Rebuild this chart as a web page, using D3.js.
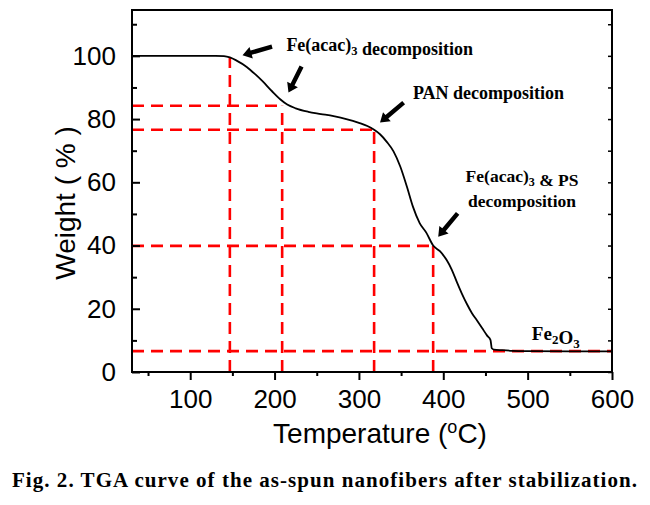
<!DOCTYPE html>
<html>
<head>
<meta charset="utf-8">
<script src="https://cdn.jsdelivr.net/npm/d3@7"></script>
<style>
  html, body { margin: 0; padding: 0; background: #fff; }
  svg { display: block; }
</style>
</head>
<body>
<script>
// ---- data ----
const temperature = [31, 60, 100, 130, 140, 147, 155, 167, 177, 186, 197, 207, 215, 225, 240, 255, 270, 285, 300, 310, 318, 325, 333, 341, 349, 357, 364, 372, 380, 388, 396, 404, 410, 416, 422, 428, 434, 440, 446, 452, 456, 457.5, 460, 470, 483, 500, 550, 600];
const weight      = [100, 100, 100, 100, 99.9, 99.5, 98.5, 96.5, 94.2, 91.9, 88.8, 86.2, 84.6, 83.4, 82.3, 81.6, 80.9, 80.0, 78.8, 77.8, 76.6, 75.2, 72.8, 69.8, 65.0, 58.5, 52.3, 47.1, 44.0, 40.0, 38.2, 35.4, 32.4, 28.5, 24.8, 21.5, 18.6, 16.3, 13.9, 11.5, 10.1, 7.5, 7.1, 6.9, 6.7, 6.6, 6.5, 6.5];

const xTicks = [100, 200, 300, 400, 500, 600];
const yTicks = [0, 20, 40, 60, 80, 100];
const xMinor = [50, 150, 250, 350, 450, 550];
const yMinor = [10, 30, 50, 70, 90, 110];

// red dashed guide lines: vertical at T, horizontal at W
const guideT = [147, 209, 318, 388];
const guideVTop = [99.5, 84.2, 76.6, 39.9];
const guideW = [84.2, 76.6, 39.9, 6.6];
const guideHEnd = [209, 318, 388, 600];

// arrows [tailT, tailW, headT, headW]
const arrows = [
  [197, 102.9, 162, 100.2],
  [232, 96.6, 216.5, 88.4],
  [353, 85.2, 325, 78.9],
  [417, 50.2, 394, 42.8]
];

// ---- layout ----
const W = 650, H = 505;
const L = 132, R = 612, T = 10, B = 372;

const svg = d3.select("body").append("svg").attr("width", W).attr("height", H);

const x = d3.scaleLinear().domain([31, 600]).range([L, R]);
const y = d3.scaleLinear().domain([0, 114.5]).range([B, T]);

const sans = "'Liberation Sans', Arial, sans-serif";
const serif = "'Liberation Serif', 'Times New Roman', serif";

// red guides
const red = svg.append("g").attr("stroke", "#ff0000").attr("stroke-width", 2.6)
  .attr("stroke-dasharray", "12,7").attr("fill", "none");
guideT.forEach((t, i) => {
  red.append("line").attr("x1", x(t)).attr("x2", x(t)).attr("y1", y(0)).attr("y2", y(guideVTop[i]));
});
guideW.forEach((w, i) => {
  red.append("line").attr("x1", x(31)).attr("x2", x(guideHEnd[i])).attr("y1", y(w)).attr("y2", y(w));
});

// curve
const pts = temperature.map((t, i) => [t, weight[i]]);
svg.append("path")
  .datum(pts)
  .attr("fill", "none").attr("stroke", "#000").attr("stroke-width", 1.8)
  .attr("d", d3.line().x(d => x(d[0])).y(d => y(d[1])).curve(d3.curveMonotoneX));

// frame
svg.append("rect").attr("x", L).attr("y", T).attr("width", R - L).attr("height", B - T)
  .attr("fill", "none").attr("stroke", "#000").attr("stroke-width", 2);

// x axis (ticks outward)
const xAxis = svg.append("g").attr("transform", `translate(0,${B})`)
  .call(d3.axisBottom(x).tickValues(xTicks).tickSize(8).tickFormat(d3.format("d")));
xAxis.select(".domain").remove();
xAxis.selectAll(".tick line").attr("stroke-width", 2);
xAxis.selectAll(".tick text").attr("font-family", sans).attr("font-size", 26).attr("dy", "0.95em").attr("fill", "#000");
const xAxisMinor = svg.append("g").attr("transform", `translate(0,${B})`)
  .call(d3.axisBottom(x).tickValues(xMinor).tickSize(4).tickFormat(""));
xAxisMinor.select(".domain").remove();
xAxisMinor.selectAll(".tick line").attr("stroke-width", 2);

// y axis (ticks inward)
const yAxis = svg.append("g").attr("transform", `translate(${L},0)`)
  .call(d3.axisLeft(y).tickValues(yTicks).tickSize(-8).tickPadding(16).tickFormat(d3.format("d")));
yAxis.select(".domain").remove();
yAxis.selectAll(".tick line").attr("stroke-width", 2);
yAxis.selectAll(".tick text").attr("font-family", sans).attr("font-size", 26).attr("fill", "#000");
const yAxisMinor = svg.append("g").attr("transform", `translate(${L},0)`)
  .call(d3.axisLeft(y).tickValues(yMinor).tickSize(-5).tickFormat(""));
yAxisMinor.select(".domain").remove();
yAxisMinor.selectAll(".tick line").attr("stroke-width", 2);

// right axis ticks inward
const rAxis = svg.append("g").attr("transform", `translate(${R},0)`)
  .call(d3.axisRight(y).tickValues(yTicks.concat(yMinor)).tickSize(-4).tickFormat(""));
rAxis.select(".domain").remove();
rAxis.selectAll(".tick line").attr("stroke-width", 1.5);

// axis titles
svg.append("text").attr("x", 380).attr("y", 443).attr("text-anchor", "middle")
  .attr("font-family", sans).attr("font-size", 28).attr("fill", "#000")
  .call(t => {
    t.append("tspan").text("Temperature (");
    t.append("tspan").attr("font-size", 18).attr("dy", -10).text("o");
    t.append("tspan").attr("dy", 10).text("C)");
  });

svg.append("text").attr("transform", "translate(75,203) rotate(-90)").attr("text-anchor", "middle")
  .attr("font-family", sans).attr("font-size", 28).attr("fill", "#000")
  .text("Weight ( % )");

// arrows
arrows.forEach(a => {
  const x1 = x(a[0]), y1 = y(a[1]), x2 = x(a[2]), y2 = y(a[3]);
  const dx = x2 - x1, dy = y2 - y1, len = Math.hypot(dx, dy);
  const ux = dx / len, uy = dy / len, nx = -uy, ny = ux;
  const hl = 9, hw = 6, sw = 2.2;
  const bx = x2 - ux * hl, by = y2 - uy * hl;
  const p = [
    [x1 + nx * sw, y1 + ny * sw],
    [bx + nx * sw, by + ny * sw],
    [bx + nx * hw, by + ny * hw],
    [x2, y2],
    [bx - nx * hw, by - ny * hw],
    [bx - nx * sw, by - ny * sw],
    [x1 - nx * sw, y1 - ny * sw]
  ];
  svg.append("polygon").attr("points", p.map(q => q.join(",")).join(" ")).attr("fill", "#000");
});

// annotations
function subText(sel, parts, subSize) {
  parts.forEach(p => {
    if (p.sub) {
      sel.append("tspan").attr("font-size", subSize).attr("dy", 4).text(p.sub);
      sel.append("tspan").attr("dy", -4).text("");
    } else {
      sel.append("tspan").text(p.t);
    }
  });
}
const ann = svg.append("g").attr("font-family", serif).attr("font-weight", "bold").attr("font-size", 18).attr("fill", "#000");
ann.append("text").attr("x", x(214)).attr("y", y(101.4))
  .call(s => subText(s, [{t: "Fe(acac)"}, {sub: "3"}, {t: " decomposition"}], 12.5));
ann.append("text").attr("x", x(364)).attr("y", y(86.3)).text("PAN decomposition");
ann.append("text").attr("x", x(493.4)).attr("y", y(60.0)).attr("text-anchor", "middle").attr("font-size", 17.5)
  .call(s => subText(s, [{t: "Fe(acac)"}, {sub: "3"}, {t: " & PS"}], 12));
ann.append("text").attr("x", x(493.4)).attr("y", y(52.3)).attr("text-anchor", "middle").attr("font-size", 17.5).text("decomposition");
ann.append("text").attr("x", x(505)).attr("y", y(10.1)).attr("font-size", 19)
  .call(s => subText(s, [{t: "Fe"}, {sub: "2"}, {t: "O"}, {sub: "3"}], 13));

// caption
svg.append("text").attr("x", 12).attr("y", 487)
  .attr("font-family", serif).attr("font-weight", "bold").attr("font-size", 21).attr("fill", "#000")
  .attr("textLength", 625).attr("lengthAdjust", "spacing")
  .text("Fig. 2. TGA curve of the as-spun nanofibers after stabilization.");
</script>
</body>
</html>
